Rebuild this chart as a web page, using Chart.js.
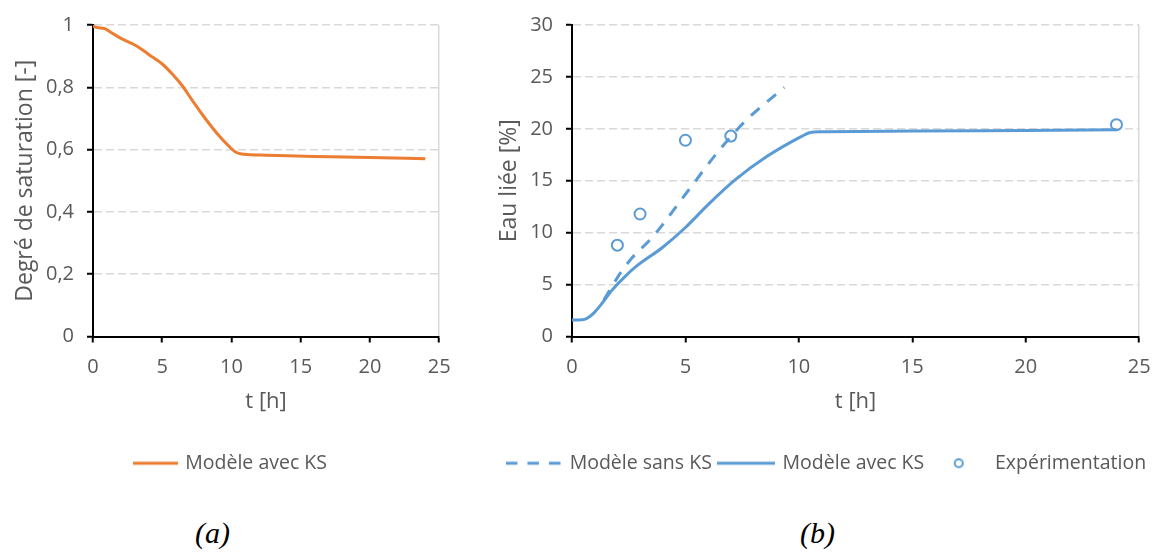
<!DOCTYPE html>
<html><head><meta charset="utf-8">
<script src="https://cdn.jsdelivr.net/npm/chart.js@4.4.1/dist/chart.umd.min.js"></script>
<style>
html,body{margin:0;padding:0;background:#fff;}
#wrap{position:relative;width:1166px;height:553px;overflow:hidden;background:#fff;}
canvas{position:absolute;top:0;}
#ca{left:0;}
#cb{left:490px;}
.cap{position:absolute;top:518px;font-family:'Liberation Serif','DejaVu Serif',serif;font-style:italic;font-size:30px;line-height:30px;width:100px;text-align:center;color:#000;}
</style></head><body>
<div id="wrap">
<canvas id="ca" width="463" height="483"></canvas>
<canvas id="cb" width="673" height="483"></canvas>
<div class="cap" style="left:162.5px">(a)</div>
<div class="cap" style="left:767.5px">(b)</div>
</div>
<script>
// ---- data (a) ----
const timeSat   = [0, 0.12, 0.83, 1.31, 2.02, 3.21, 4.07, 5.02, 5.74, 6.45, 7.17, 8.12, 9.07, 9.79, 10.26, 10.86, 12.5, 16, 20, 24];
const satAvecKS = [1.0, 0.994, 0.989, 0.976, 0.957, 0.931, 0.904, 0.874, 0.842, 0.805, 0.758, 0.699, 0.646, 0.612, 0.593, 0.585, 0.582, 0.578, 0.575, 0.571];
// ---- data (b) ----
const timeAvec  = [0, 0.3, 0.55, 0.8, 1.0, 1.2, 1.45, 1.72, 2.3, 2.8, 4.0, 5.0, 6.0, 7.2, 8.6, 10.1, 10.5, 11, 15, 20, 24];
const eauAvecKS = [1.6, 1.6, 1.65, 1.95, 2.35, 2.85, 3.55, 4.35, 5.7, 6.7, 8.6, 10.5, 12.7, 15.1, 17.35, 19.25, 19.65, 19.72, 19.78, 19.85, 19.9];
const timeSans  = [1.4, 2.16, 2.66, 3.54, 5.0, 6.45, 7.62, 9.36];
const eauSansKS = [3.5, 6.2, 7.6, 9.55, 13.7, 17.83, 20.7, 24.0];
const timeExp   = [2, 3, 5, 7, 24];
const eauExp    = [8.8, 11.8, 18.9, 19.3, 20.4];
// ---- tick labels ----
const xTicks  = ['0', '5', '10', '15', '20', '25'];
const yTicksA = ['0', '0,2', '0,4', '0,6', '0,8', '1'];
const yTicksB = ['0', '5', '10', '15', '20', '25', '30'];
// ---- names ----
const nameAvec = 'Modèle avec KS';
const nameSans = 'Modèle sans KS';
const nameExp  = 'Expérimentation';

const ORANGE = '#ED7D31', BLUE = '#5B9BD5', TXT = '#595959', GRID = '#d9d9d9';
Chart.defaults.font.family = "'Open Sans', 'Liberation Sans', sans-serif";

const pts = (xs, ys) => xs.map((x, i) => ({x, y: ys[i]}));

function lineIcon(color, w, dash) {
  const c = document.createElement('canvas'); c.width = w; c.height = 6;
  const g = c.getContext('2d'); g.strokeStyle = color; g.lineWidth = 3;
  g.setLineDash(dash || []); g.beginPath(); g.moveTo(0, 3); g.lineTo(w, 3); g.stroke();
  return c;
}
function circleIcon(color) {
  const c = document.createElement('canvas'); c.width = 12; c.height = 12;
  const g = c.getContext('2d'); g.strokeStyle = color; g.lineWidth = 2;
  g.beginPath(); g.arc(6, 6, 4, 0, Math.PI * 2); g.stroke();
  return c;
}

function makeOptions(cfg) {
  const scales = {
    x: {
      type: 'linear', min: 0, max: 25,
      afterFit: s => { s.height = 109; },
      ticks: {stepSize: 5, color: TXT, font: {size: 20}, padding: 12.4, maxRotation: 0,
              callback: (v, i) => xTicks[i]},
      grid: {drawOnChartArea: true,
             color: c => (c.tick && c.tick.value === 25) ? GRID : 'rgba(0,0,0,0)',
             lineWidth: 1.5, tickColor: '#000', tickLength: 6, tickWidth: 2, tickBorderDash: []},
      border: {color: '#000', width: 2, dash: []},
      title: {display: true, text: 't [h]', color: TXT, font: {size: 22}, padding: {top: 0, bottom: 31}}
    },
    y: {
      type: 'linear', position: 'left', min: 0, max: cfg.yMax,
      afterFit: s => { s.width = cfg.yWidth; },
      ticks: {stepSize: cfg.yStep, color: TXT, font: {size: 20}, padding: 13,
              callback: (v, i) => cfg.yTicks[i]},
      grid: {color: c => (c.tick && c.tick.value === 0) ? 'rgba(0,0,0,0)' : GRID,
             lineWidth: 1.5, tickColor: '#000', tickLength: 6, tickWidth: 2, tickBorderDash: []},
      border: {color: '#000', width: 2, dash: [8, 4]},
      title: {display: true, text: cfg.yTitle, color: TXT, font: {size: 23}, padding: {top: cfg.yTitlePad, bottom: 0}}
    }
  };
  if (cfg.rightGap) {
    scales.yGap = {
      type: 'linear', position: 'right', min: 0, max: 1,
      afterFit: s => { s.width = cfg.rightGap; },
      ticks: {display: false}, grid: {display: false, drawTicks: false},
      border: {display: false}, title: {display: false}
    };
  }
  return {
    responsive: false, animation: false,
    layout: {padding: {top: 23, left: cfg.padLeft, right: cfg.padRight, bottom: 0}},
    plugins: {
      tooltip: {enabled: false},
      legend: {
        position: 'bottom',
        labels: {
          usePointStyle: true, pointStyleWidth: cfg.boxW, padding: 8,
          color: TXT, font: {size: 19.5},
          generateLabels(chart) {
            const items = Chart.defaults.plugins.legend.labels.generateLabels(chart);
            items.forEach((it, i) => { it.pointStyle = cfg.icons[i]; it.lineDash = []; });
            return items;
          }
        }
      }
    },
    scales
  };
}

new Chart(document.getElementById('ca'), {
  type: 'line',
  data: {datasets: [{
    label: nameAvec, data: pts(timeSat, satAvecKS),
    borderColor: ORANGE, backgroundColor: ORANGE, borderWidth: 3,
    pointRadius: 0, cubicInterpolationMode: 'monotone', fill: false
  }]},
  options: makeOptions({padLeft: 20, padRight: 20, boxW: 39.5, yMax: 1, yStep: 0.2, yWidth: 73,
    yTicks: yTicksA, yTitle: 'Degré de saturation [-]', yTitlePad: -8.8,
    icons: [lineIcon(ORANGE, 45)]})
});

new Chart(document.getElementById('cb'), {
  type: 'line',
  data: {datasets: [
    {label: nameSans, data: pts(timeSans, eauSansKS),
     borderColor: BLUE, backgroundColor: BLUE, borderWidth: 3, borderDash: [11.5, 10],
     pointRadius: 0, cubicInterpolationMode: 'monotone', fill: false},
    {label: nameAvec, data: pts(timeAvec, eauAvecKS),
     borderColor: BLUE, backgroundColor: BLUE, borderWidth: 3,
     pointRadius: 0, cubicInterpolationMode: 'monotone', fill: false},
    {label: nameExp, data: pts(timeExp, eauExp), showLine: false,
     borderColor: BLUE, backgroundColor: 'rgba(255,255,255,0)',
     pointStyle: 'circle', pointRadius: 5.5, pointBorderWidth: 2,
     pointBorderColor: BLUE, pointBackgroundColor: 'rgba(255,255,255,0)'}
  ]},
  options: makeOptions({padLeft: 0, padRight: 0, rightGap: 17, boxW: 53, yMax: 30, yStep: 5, yWidth: 82,
    yTicks: yTicksB, yTitle: 'Eau liée [%]', yTitlePad: 6,
    icons: [lineIcon(BLUE, 55, [11.5, 10]), lineIcon(BLUE, 58), circleIcon(BLUE)]})
});
</script>
</body></html>
